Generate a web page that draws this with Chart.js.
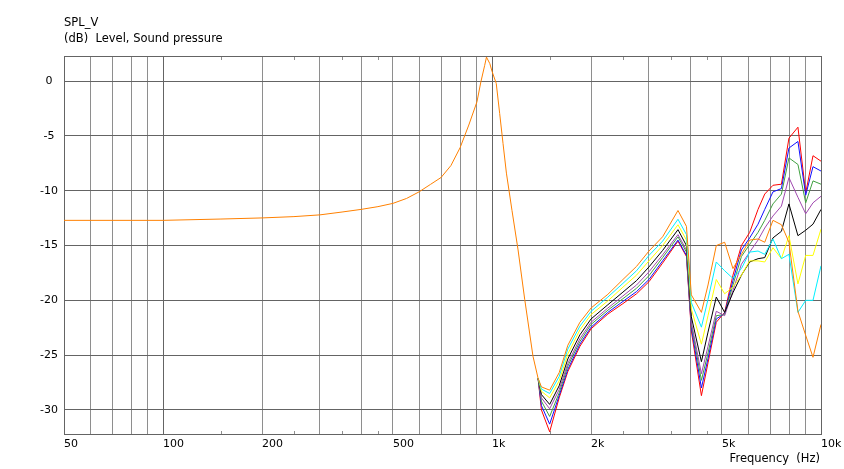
<!DOCTYPE html>
<html>
<head>
<meta charset="utf-8">
<script src="https://cdn.jsdelivr.net/npm/chart.js@4.4.1/dist/chart.umd.min.js"></script>
<style>
html,body{margin:0;padding:0;background:#ffffff;}
#wrap{width:844px;height:469px;position:relative;}
canvas{display:block;}
</style>
</head>
<body>
<div id="wrap"><canvas id="c" width="844" height="469"></canvas></div>
<script>
// ---- data ----
// Part of the response that is common to all eight curves (Hz, dB)
const commonFreq  = [50, 100, 150, 200, 250, 300, 350, 400, 450, 500, 550, 600, 650, 700, 750, 800, 850, 900, 925, 950, 962, 985, 1000, 1030, 1055, 1080, 1106, 1150, 1200, 1257, 1332, 1380];
const commonLevel = [-12.7, -12.7, -12.58, -12.48, -12.36, -12.2, -11.94, -11.7, -11.45, -11.15, -10.7, -10.1, -9.42, -8.79, -7.7, -6.06, -4.0, -1.88, -0.06, 1.45, 2.2, 1.6, 0.9, -0.2, -2.94, -5.67, -8.39, -11.8, -15.4, -19.9, -25.1, -27.1];

// Frequencies where the curves separate (Hz)
const highFreq = [1413, 1497, 1600, 1700, 1850, 2000, 2250, 2500, 2750, 3000, 3300, 3675, 3900, 4035, 4330, 4535, 4805, 5095, 5400, 5730, 6070, 6435, 6745, 7145, 7580, 7990, 8510, 8985, 9455, 10000];

const orangeLevel = [-27.9, -28.2, -26.6, -24.1, -22.0, -20.7, -19.45, -18.1, -16.9, -15.5, -14.2, -11.8, -13.25, -19.5, -21.1, -18.6, -15.0, -14.7, -17.1, -15.8, -14.5, -14.4, -14.7, -12.7, -13.1, -14.7, -21.0, -23.2, -25.2, -22.2];
const cyanLevel   = [-28.1, -28.5, -26.95, -24.45, -22.35, -21.0, -19.7, -18.45, -17.3, -15.9, -14.6, -12.6, -14.0, -20.2, -22.45, -19.9, -16.5, -17.3, -18.0, -17.1, -15.6, -15.5, -15.8, -14.4, -16.2, -15.8, -21.1, -20.0, -20.0, -16.85];
const yellowLevel = [-28.3, -28.9, -27.35, -24.9, -22.7, -21.3, -20.05, -18.8, -17.7, -16.4, -15.0, -13.1, -14.5, -20.8, -24.0, -21.4, -18.1, -19.4, -18.8, -17.7, -16.4, -16.4, -16.5, -15.2, -16.2, -14.1, -18.5, -15.9, -15.9, -13.5];
const blackLevel  = [-28.6, -29.5, -27.8, -25.35, -23.15, -21.7, -20.4, -19.25, -18.2, -16.95, -15.45, -13.55, -15.0, -21.5, -25.6, -22.9, -19.7, -21.1, -19.3, -17.7, -16.5, -16.2, -16.1, -14.3, -13.7, -11.2, -14.1, -13.6, -13.05, -11.7];
const purpleLevel = [-28.9, -29.9, -28.15, -25.75, -23.5, -22.0, -20.7, -19.6, -18.6, -17.4, -15.85, -14.0, -15.4, -22.0, -26.7, -24.2, -21.0, -21.4, -19.1, -16.7, -15.6, -14.5, -13.4, -12.3, -11.4, -8.8, -10.6, -12.1, -11.1, -10.5];
const greenLevel  = [-29.2, -30.6, -28.45, -26.0, -23.75, -22.2, -20.9, -19.85, -18.9, -17.75, -16.1, -14.2, -15.6, -22.2, -27.3, -24.8, -21.4, -21.3, -18.6, -16.0, -14.9, -13.8, -12.7, -11.2, -10.3, -7.0, -7.6, -11.1, -9.1, -9.4];
const blueLevel   = [-29.6, -31.3, -28.7, -26.3, -24.0, -22.45, -21.1, -20.1, -19.2, -18.1, -16.4, -14.5, -15.9, -22.5, -28.0, -25.3, -21.7, -21.2, -18.2, -15.4, -14.3, -13.05, -11.7, -10.1, -9.8, -6.1, -5.5, -10.4, -7.8, -8.2];
const redLevel    = [-30.0, -32.0, -28.9, -26.5, -24.2, -22.6, -21.25, -20.3, -19.4, -18.3, -16.6, -14.6, -16.0, -22.8, -28.7, -25.7, -22.0, -21.1, -17.7, -15.0, -13.8, -11.7, -10.3, -9.5, -9.4, -5.2, -4.2, -10.2, -6.8, -7.3];

// ticks
const xGridValues = [50, 60, 70, 80, 90, 100, 200, 300, 400, 500, 600, 700, 800, 900, 1000, 2000, 3000, 4000, 5000, 6000, 7000, 8000, 9000, 10000];
const xDecadeValues = [100, 1000];
const xLabelValues = [50, 100, 200, 500, 1000, 2000, 5000, 10000];
const xLabelTexts  = ['50', '100', '200', '500', '1k', '2k', '5k', '10k'];
const xMinorTicks = [150, 250, 350, 450, 1500, 2500, 3500, 4500];
const yTickValues = [-30, -25, -20, -15, -10, -5, 0];
const yTickTexts  = ['-30', '-25', '-20', '-15', '-10', '-5', '0'];

const titleText = 'SPL_V';
const subtitleText = '(dB)  Level, Sound pressure';
const xTitleText = 'Frequency  (Hz)';

// ---- styling ----
const gridLight = '#8e8e8e';
const gridDark = '#646464';
const FONT = '"DejaVu Sans", Verdana, sans-serif';

// The shared low-frequency part is drawn once (by the top curve, orange);
// the other curves join it at its last shared point, where they start to separate.
function series(levels, full) {
  const start = full ? 0 : commonFreq.length - 1;
  const pts = commonFreq.slice(start).map((f, i) => ({x: f, y: commonLevel[start + i]}));
  return pts.concat(highFreq.map((f, i) => ({x: f, y: levels[i]})));
}

const seriesDefs = [
  {levels: orangeLevel, color: '#ff8000', full: true},
  {levels: cyanLevel,   color: '#00f0ff'},
  {levels: yellowLevel, color: '#ffff00'},
  {levels: blackLevel,  color: '#000000'},
  {levels: purpleLevel, color: '#a048b0'},
  {levels: greenLevel,  color: '#40a040'},
  {levels: blueLevel,   color: '#1010ff'},
  {levels: redLevel,    color: '#ff0000'}
];

const datasets = seriesDefs.map(s => ({
  data: series(s.levels, !!s.full),
  borderColor: s.color,
  backgroundColor: s.color,
  borderWidth: 1,
  pointRadius: 0,
  tension: 0,
  fill: false
}));

const framePlugin = {
  id: 'frame',
  beforeDatasetsDraw(chart) {
    const {ctx, chartArea: a, scales: {x}} = chart;
    ctx.save();
    ctx.lineWidth = 1;
    ctx.strokeStyle = gridLight;
    ctx.beginPath();
    xMinorTicks.forEach(v => {
      const px = Math.round(x.getPixelForValue(v)) + 0.5;
      ctx.moveTo(px, Math.round(a.top));
      ctx.lineTo(px, Math.round(a.top) + 4);
      ctx.moveTo(px, Math.round(a.bottom) + 1);
      ctx.lineTo(px, Math.round(a.bottom) - 3);
    });
    ctx.stroke();
    ctx.strokeStyle = gridDark;
    ctx.strokeRect(Math.round(a.left) + 0.5, Math.round(a.top) + 0.5,
                   Math.round(a.right) - Math.round(a.left), Math.round(a.bottom) - Math.round(a.top));
    ctx.restore();
  },
  afterDraw(chart) {
    const {ctx, chartArea: a} = chart;
    ctx.save();
    ctx.fillStyle = '#000000';
    ctx.font = '11.5px ' + FONT;
    ctx.textBaseline = 'alphabetic';
    ctx.textAlign = 'left';
    ctx.fillText(titleText, a.left, 26);
    ctx.fillText(subtitleText, a.left, 42);
    ctx.textAlign = 'right';
    ctx.fillText(xTitleText, a.right - 1, 462);
    ctx.restore();
  }
};

new Chart(document.getElementById('c'), {
  type: 'line',
  data: {datasets},
  plugins: [framePlugin],
  options: {
    responsive: false,
    animation: false,
    events: [],
    layout: {padding: {left: 4, right: 23, top: 56, bottom: 0}},
    plugins: {legend: {display: false}, tooltip: {enabled: false}, title: {display: false}},
    scales: {
      x: {
        type: 'logarithmic',
        position: 'bottom',
        min: 50,
        max: 10000,
        afterBuildTicks: (axis) => { axis.ticks = xGridValues.map(v => ({value: v})); },
        afterFit: (axis) => { axis.height = 35; axis.paddingLeft = 0; axis.paddingRight = 0; },
        border: {display: false},
        grid: {
          drawTicks: false,
          lineWidth: 1,
          color: (c) => (c.tick && xDecadeValues.includes(c.tick.value)) ? gridDark : gridLight
        },
        ticks: {
          autoSkip: false,
          maxRotation: 0,
          minRotation: 0,
          align: 'start',
          padding: 4,
          color: '#000000',
          font: {family: FONT, size: 11},
          callback: (v) => { const i = xLabelValues.indexOf(v); return i >= 0 ? xLabelTexts[i] : ''; }
        }
      },
      y: {
        type: 'linear',
        min: -32.2,
        max: 2.3,
        afterBuildTicks: (axis) => { axis.ticks = yTickValues.map(v => ({value: v})); },
        afterFit: (axis) => { axis.width = 60; axis.paddingTop = 0; axis.paddingBottom = 0; },
        border: {display: false},
        grid: {drawTicks: false, lineWidth: 1, color: gridDark},
        ticks: {
          crossAlign: 'center',
          padding: 6,
          color: '#000000',
          font: {family: FONT, size: 11},
          callback: (v) => { const i = yTickValues.indexOf(v); return i >= 0 ? yTickTexts[i] : ''; }
        }
      }
    }
  }
});
</script>
</body>
</html>
